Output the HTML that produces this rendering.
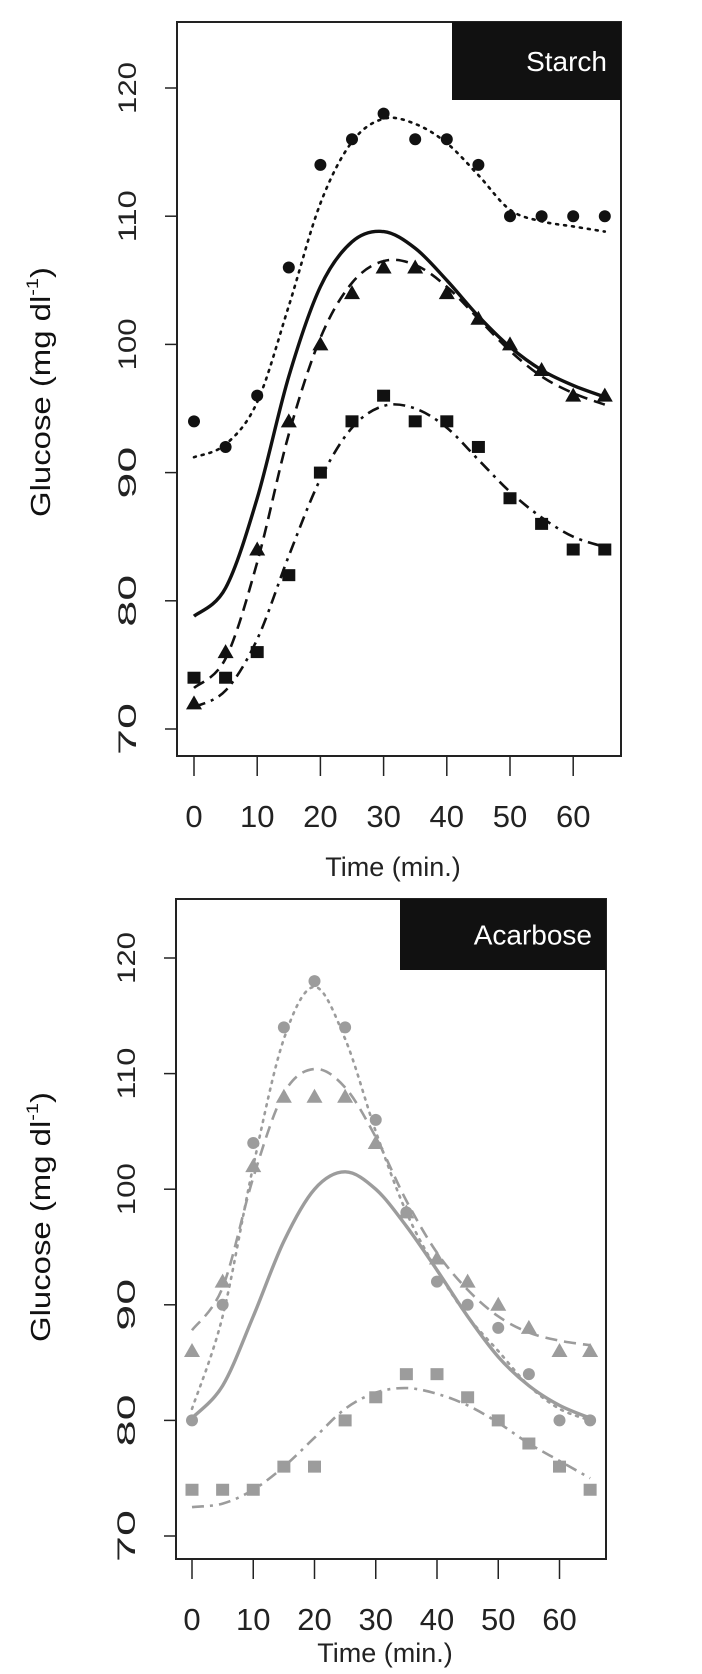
<!DOCTYPE html>
<html><head><meta charset="utf-8"><style>
html,body{margin:0;padding:0;background:#fff}
svg{display:block;font-family:"Liberation Sans",Arial,sans-serif}
</style></head><body>
<svg id="chart" width="702" height="1674" viewBox="0 0 702 1674" xmlns="http://www.w3.org/2000/svg"></svg>
<script>
const times = [0,5,10,15,20,25,30,35,40,45,50,55,60,65];
const xTicks = [0,10,20,30,40,50,60];
const yTicks = [70,80,90,100,110,120];
// Starch panel data
const starchCircles = [94,92,96,106,114,116,118,116,116,114,110,110,110,110];
const starchTriangles = [72,76,84,94,100,104,106,106,104,102,100,98,96,96];
const starchSquares = [74,74,76,82,90,94,96,94,94,92,88,86,84,84];
const starchFitDotted = [91.2,92.2,95.5,103,111,115.8,117.6,117.2,115.7,113.2,110.5,109.6,109.2,108.8];
const starchFitSolid = [78.8,81,88,97.5,104.5,108,108.8,107.5,105,102.2,99.8,98,96.8,95.9];
const starchFitDashed = [73.2,75.5,83,93,100.5,104.8,106.5,106.2,104.5,102,99.5,97.5,96.2,95.3];
const starchFitDashDot = [71.7,73,77,83.5,89.5,93.5,95.2,95,93.5,91,88.5,86.5,85,84.2];
// Acarbose panel data
const acarCircles = [80,90,104,114,118,114,106,98,92,90,88,84,80,80];
const acarTriangles = [86,92,102,108,108,108,104,98,94,92,90,88,86,86];
const acarSquares = [74,74,74,76,76,80,82,84,84,82,80,78,76,74];
const acarFitDotted = [81,89,102,113,117.5,113,105,98,93,89,86,83,81,80];
const acarFitDashed = [87.8,91.5,101,108.3,110.4,108.8,104.5,99,94.5,91.3,89,87.6,86.9,86.5];
const acarFitSolid = [80.2,83,89,95.5,100,101.5,100,96.8,93,89,85.5,83,81.3,80.2];
const acarFitDashDot = [72.5,72.8,74,76,78.5,81,82.4,82.8,82.3,81.3,79.8,78,76.5,75];

const NS = "http://www.w3.org/2000/svg";
const svg = document.getElementById('chart');
function mk(tag, attrs, parent){const e=document.createElementNS(NS,tag);for(const k in attrs)e.setAttribute(k,attrs[k]);(parent||svg).appendChild(e);return e;}

function smoothPath(xs, ys){
  let d = `M${xs[0]},${ys[0]}`;
  for(let i=0;i<xs.length-1;i++){
    const x0=xs[Math.max(i-1,0)],y0=ys[Math.max(i-1,0)];
    const x1=xs[i],y1=ys[i],x2=xs[i+1],y2=ys[i+1];
    const x3=xs[Math.min(i+2,xs.length-1)],y3=ys[Math.min(i+2,xs.length-1)];
    d+=` C${x1+(x2-x0)/6},${y1+(y2-y0)/6} ${x2-(x3-x1)/6},${y2-(y3-y1)/6} ${x2},${y2}`;
  }
  return d;
}

function panel(cfg){
  const g = mk('g',{});
  
  
  const X = t => cfg.x0 + t*cfg.xs;
  const Y = v => cfg.y70 - (v-70)*cfg.ys;
  const col = cfg.color;
  // box
  const box = mk('rect',{x:cfg.left,y:cfg.top,width:cfg.right-cfg.left,height:cfg.bottom-cfg.top,fill:'none',stroke:'#222','stroke-width':2},g);
  
  
  // label box
  const lb = mk('rect',{x:cfg.lblX,y:cfg.top,width:cfg.right-cfg.lblX,height:cfg.lblBottom-cfg.top,fill:'#111'},g);
  
  
  const lt = mk('text',{x:cfg.right-14,y:(cfg.top+cfg.lblBottom)/2+10,'text-anchor':'end','font-size':28,fill:'#fff'},g);
  lt.textContent = cfg.label;
  
  
  // y ticks
  yTicks.forEach(v=>{
    const y=Y(v);
    const tk = mk('line',{x1:cfg.left-12,x2:cfg.left,y1:y,y2:y,stroke:'#222','stroke-width':1.5},g);
    
    
    const t = mk('text',{x:0,y:0,'text-anchor':'middle','font-size':25,fill:'#222',textLength:52,lengthAdjust:'spacingAndGlyphs',transform:`translate(${cfg.left-50},${y}) rotate(-90)`,dy:9},g);
    t.textContent = v;
    
    
  });
  // x ticks
  xTicks.forEach(v=>{
    const x=X(v);
    const tk = mk('line',{x1:x,x2:x,y1:cfg.bottom,y2:cfg.bottom+20,stroke:'#222','stroke-width':1.5},g);
    
    
    const t = mk('text',{x:x,y:cfg.bottom+71,'text-anchor':'middle','font-size':31,fill:'#222'},g);
    t.textContent = v;
    
    
  });
  const xt = mk('text',{x:(cfg.left+cfg.right)/2-6,y:cfg.xTitleY,'text-anchor':'middle','font-size':27,fill:'#222'},g);
  xt.textContent='Time (min.)';
  
  
  const yt = mk('text',{x:0,y:0,'text-anchor':'middle','font-size':28,fill:'#111',textLength:250,lengthAdjust:'spacingAndGlyphs',transform:`translate(50,${cfg.yTitleY}) rotate(-90)`},g);
  yt.innerHTML='Glucose (mg dl<tspan font-size="17" dy="-12">-1</tspan><tspan dy="12">)</tspan>';
  
  
  // curves
  const xs = times.map(X);
  const curves = [
    [cfg.fits[0],'2,6',2.6,'fit-dotted'],
    [cfg.fits[1],'none',3.4,'fit-solid'],
    [cfg.fits[2],'12,7',2.6,'fit-dashed'],
    [cfg.fits[3],'12,6,3,6',2.6,'fit-dashdot']
  ];
  curves.forEach(c=>{
    const p = mk('path',{d:smoothPath(xs,c[0].map(Y)),fill:'none',stroke:col,'stroke-width':c[2],'stroke-dasharray':c[1],'stroke-linecap':c[1]==='2,6'?'round':'butt'},g);
    
    
  });
  // markers
  cfg.circles.forEach((v,i)=>{
    const m = mk('circle',{cx:X(times[i]),cy:Y(v),r:6,fill:col},g);
    
    
  });
  cfg.triangles.forEach((v,i)=>{
    const x=X(times[i]),y=Y(v);
    const m = mk('polygon',{points:`${x},${y-8} ${x-8},${y+6} ${x+8},${y+6}`,fill:col},g);
    
    
  });
  cfg.squares.forEach((v,i)=>{
    const x=X(times[i]),y=Y(v);
    const m = mk('rect',{x:x-6.5,y:y-6,width:13,height:12,fill:col},g);
    
    
  });
}

panel({name:'starch-panel',label:'Starch',color:'#111',
  left:177,right:621,top:22,bottom:756,lblX:452,lblBottom:100,
  x0:194,xs:6.32,y70:729,ys:12.82,xTitleY:876,yTitleY:392,
  circles:starchCircles,triangles:starchTriangles,squares:starchSquares,
  fits:[starchFitDotted,starchFitSolid,starchFitDashed,starchFitDashDot]});
panel({name:'acarbose-panel',label:'Acarbose',color:'#9c9c9c',
  left:176,right:606,top:899,bottom:1559,lblX:400,lblBottom:970,
  x0:192,xs:6.125,y70:1536,ys:11.56,xTitleY:1662,yTitleY:1217,
  circles:acarCircles,triangles:acarTriangles,squares:acarSquares,
  fits:[acarFitDotted,acarFitSolid,acarFitDashed,acarFitDashDot]});
</script>
</body></html>
